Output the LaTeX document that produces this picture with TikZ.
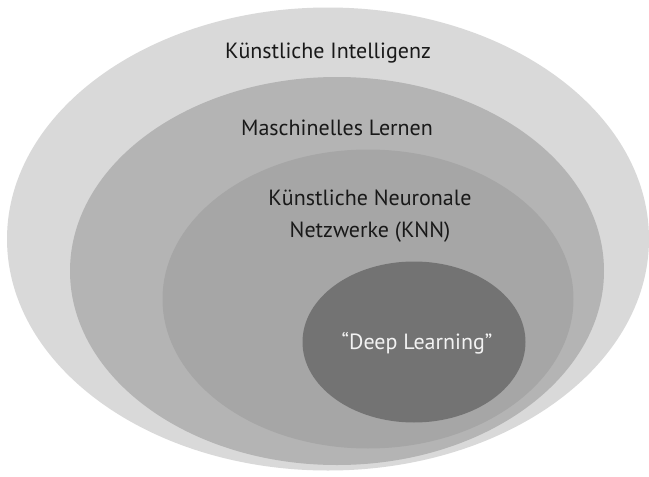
\documentclass[tikz,border=0pt]{standalone}
\usepackage{fontspec}
\setmainfont{PT Sans}
\usetikzlibrary{shapes.geometric}
\definecolor{cKI}{HTML}{D9D9D9}
\definecolor{cML}{HTML}{B4B4B4}
\definecolor{cNN}{HTML}{A6A6A6}
\definecolor{cDL}{HTML}{737373}
\tikzset{
  blob/.style={ellipse, inner sep=0pt, draw=none},
  lbl/.style={font=\fontsize{22}{32}\selectfont, text=black!90, align=center, inner sep=0pt},
}
\begin{document}
\begin{tikzpicture}[x=1pt,y=-1pt]
\useasboundingbox[fill=white] (0,0) rectangle (649,477);
\node[blob, fill=cKI, minimum width=642pt, minimum height=463pt] (ki) at (328,239) {};
\node[blob, fill=cML, minimum width=534pt, minimum height=388pt] (ml) at (337,271) {};
\node[blob, fill=cNN, minimum width=411pt, minimum height=299pt] (nn) at (368,299) {};
\node[blob, fill=cDL, minimum width=223pt, minimum height=161pt] (dl) at (414,342) {};
\node[lbl] (tki) at (328,53) {Künstliche Intelligenz};
\node[lbl] (tml) at (337,128) {Maschinelles Lernen};
\node[lbl] (tnn) at (370,216) {Künstliche Neuronale\\Netzwerke (KNN)};
\node[lbl, text=white!95!black] (tdl) at (417,343) {“Deep Learning”};
\end{tikzpicture}
\end{document}
